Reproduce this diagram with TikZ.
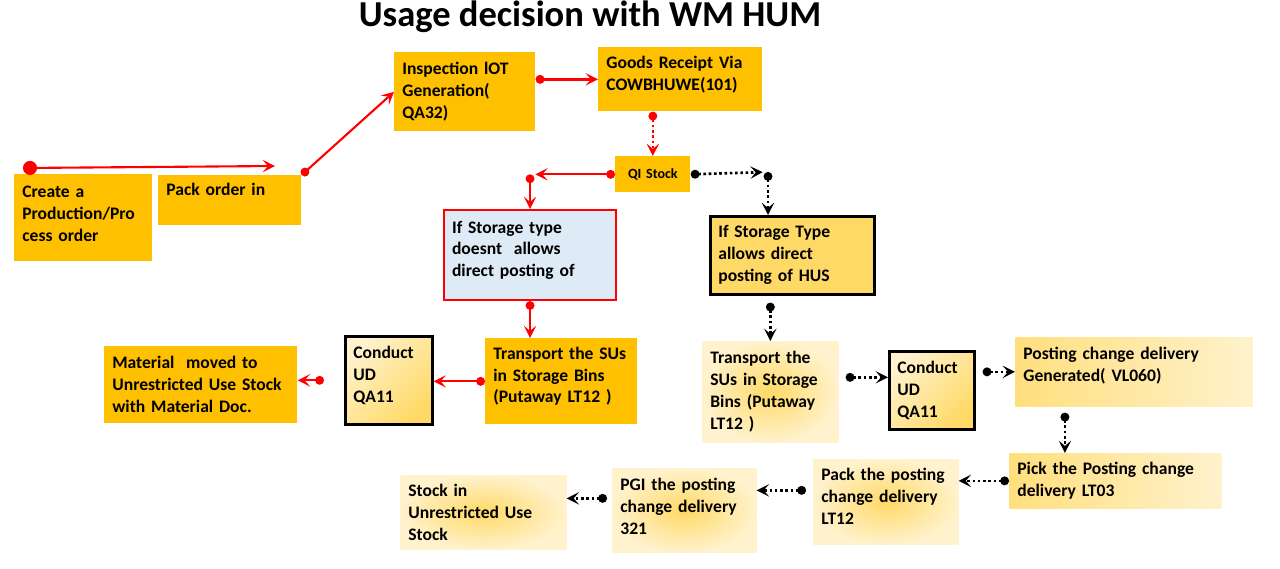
\documentclass[tikz,border=0pt]{standalone}
\usepackage{fontspec}
\setmainfont{Carlito}
\usepackage{tikz}
\usetikzlibrary{arrows.meta,positioning,calc}
\usepackage{xcolor}
\definecolor{boxorange}{HTML}{FFC000}
\definecolor{boxblue}{HTML}{DEEBF7}
\definecolor{boxyellow}{HTML}{FFD966}
\definecolor{gradgold}{HTML}{FFD966}
\definecolor{gradpale}{HTML}{FFF2CC}
\definecolor{linkred}{HTML}{FF0000}

\begin{document}
\begin{tikzpicture}[
    x=0.02cm, y=-0.02cm,
    stepnode/.style={
      anchor=north west, align=left,
      inner xsep=0.16cm, inner ysep=0pt,
      font=\fontsize{10}{12.5}\selectfont\bfseries, text=black,
      execute at begin node={\hyphenpenalty=10000\exhyphenpenalty=10000}
    },
    lifted/.style={text height=#1},
    lifted/.default=1.6pt,
    orangebox/.style={stepnode, fill=boxorange},
    softbox/.style={stepnode, inner color=gradgold, outer color=gradpale},
    fadebox/.style={stepnode, left color=gradgold!85, right color=gradpale},
    udbox/.style={
      stepnode, draw=black, line width=1.5pt,
      top color=gradpale, bottom color=gradgold, shading angle=45
    },
    redlink/.style={
      {Circle[length=5pt]}-{Stealth[length=7pt,width=7pt,inset=3pt]},
      linkred, line width=1.2pt
    },
    blacklink/.style={
      {Circle[length=5pt]}-{Stealth[length=7pt,width=7pt,inset=3pt]},
      black, line width=1.5pt, dash pattern=on 1.5pt off 1.5pt
    },
  ]
  \useasboundingbox (0,0) rectangle (1280,568);

  % =================== Title ===================
  \node[font=\fontsize{20.8}{25}\selectfont\bfseries] (title) at (590,17)
    {Usage decision with WM HUM};

  % =================== Order and receipt ===================
  \node[orangebox, lifted, text width=2.44cm, minimum height=1.74cm] (create) at (14,174)
    {Create a\\Production/Pro\\cess order};
  \node[orangebox, text width=2.54cm, minimum height=1.00cm] (pack) at (158,175)
    {Pack order in\\\mbox{}};
  \node[orangebox, text width=2.50cm, minimum height=1.58cm] (insp) at (394,52)
    {Inspection lOT\\Generation(\\QA32)};
  \node[orangebox, lifted, text width=2.96cm, minimum height=1.28cm] (goods) at (598,47)
    {Goods Receipt Via\\COWBHUWE(101)};
  \node[orangebox, align=center, text width=1.18cm, minimum height=0.72cm,
        font=\fontsize{8}{9.5}\selectfont\bfseries] (qi) at (615,156) {QI Stock};

  \coordinate (cstart) at (23,168);
  \coordinate (cend) at (275,166);
  \draw[redlink, {Circle[length=8pt]}-{Stealth[length=7pt,width=7pt,inset=3pt]}]
    (cstart) -- (cend);
  \draw[redlink] (pack.north east) -- (insp.west);
  \draw[redlink, line width=2pt] (insp.east |- goods.west) -- (goods.west);
  \draw[redlink, dash pattern=on 1.5pt off 1.5pt] (goods.south -| qi.north) -- (qi.north);

  % =================== Not direct (left branch) ===================
  \node[stepnode, lifted, fill=boxblue, draw=linkred, line width=1.2pt,
        text width=3.12cm, minimum height=1.80cm] (nodirect) at (443,209)
    {If Storage type\\doesnt\ \ allows\\direct posting of};
  \node[orangebox, lifted=1.2pt, text width=2.72cm, minimum height=1.72cm] (transL) at (485,338)
    {Transport the SUs\\in Storage Bins\\(Putaway LT12 )};
  \node[udbox, lifted, text width=1.42cm, minimum height=1.76cm] (udL) at (344,335)
    {Conduct\\UD\\QA11};
  \node[orangebox, text width=3.54cm, minimum height=1.54cm] (material) at (104,346)
    {Material\ \ moved to\\Unrestricted Use Stock\\with Material Doc.};

  \coordinate (qcornL) at (nodirect.north |- qi.west);
  \draw[redlink, shorten >=3pt] (qi.west) -- (qcornL);
  \draw[redlink] (qcornL) -- (nodirect.north);
  \draw[redlink] (nodirect.south) -- (nodirect.south |- transL.north);
  \draw[redlink] (transL.west) -- (transL.west -| udL.east);
  \draw[redlink, shorten <=0.4cm] (udL.west) -- (udL.west -| material.east);

  % =================== Direct (right branch) ===================
  \node[stepnode, fill=boxyellow, draw=black, line width=1.5pt,
        text width=2.96cm, minimum height=1.56cm] (direct) at (709,215)
    {If Storage Type\\allows direct\\posting of HUS};
  \node[softbox, text width=2.40cm, minimum height=2.02cm] (transR) at (702,341)
    {Transport the\\SUs in Storage\\Bins (Putaway\\LT12 )};
  \node[udbox, text width=1.38cm, minimum height=1.56cm] (udR) at (888,350)
    {Conduct\\UD\\QA11};
  \node[fadebox, lifted=0pt, text width=4.42cm, minimum height=1.38cm] (pcdeliv) at (1015,337)
    {Posting change delivery\\Generated( VL060)};
  \node[fadebox, text width=3.92cm, minimum height=1.10cm] (pick) at (1009,453)
    {Pick the Posting change\\delivery LT03};
  \node[softbox, lifted=1pt, text width=2.58cm, minimum height=1.70cm] (packpc) at (813,459)
    {Pack the posting\\change delivery\\LT12};
  \node[softbox, lifted=2.7pt, text width=2.56cm, minimum height=1.68cm] (pgi) at (612,468)
    {PGI the posting\\change delivery\\321};
  \node[softbox, text width=3.00cm, minimum height=1.48cm] (stock) at (400,475)
    {Stock in\\Unrestricted Use\\Stock};

  \coordinate (qcornR) at (768,172);
  \draw[blacklink, shorten >=3pt] (qi.east) -- (qcornR);
  \draw[blacklink] (qcornR) -- (qcornR |- direct.north);
  \draw[blacklink, shorten <=4pt] (transR.north |- direct.south) -- (transR.north);

  \coordinate (udin) at ([yshift=0.26cm]udR.west);
  \draw[blacklink, shorten <=0.14cm] (udin -| transR.east) -- (udin);
  \draw[blacklink, shorten <=0.14cm] (pcdeliv.west -| udR.east) -- (pcdeliv.west);

  \coordinate (pcout) at ($(pcdeliv.south west)!0.21!(pcdeliv.south east)$);
  \draw[blacklink, shorten <=0.12cm] (pcout) -- (pcout |- pick.north);
  \draw[blacklink] (pick.west) -- (pick.west -| packpc.east);

  \coordinate (packout) at ([yshift=0.23cm]packpc.west);
  \draw[blacklink, shorten <=0.14cm] (packout) -- (packout -| pgi.east);
  \coordinate (pgiout) at ([yshift=0.24cm]pgi.west);
  \draw[blacklink, shorten <=0.1cm] (pgiout) -- (pgiout -| stock.east);

\end{tikzpicture}
\end{document}
